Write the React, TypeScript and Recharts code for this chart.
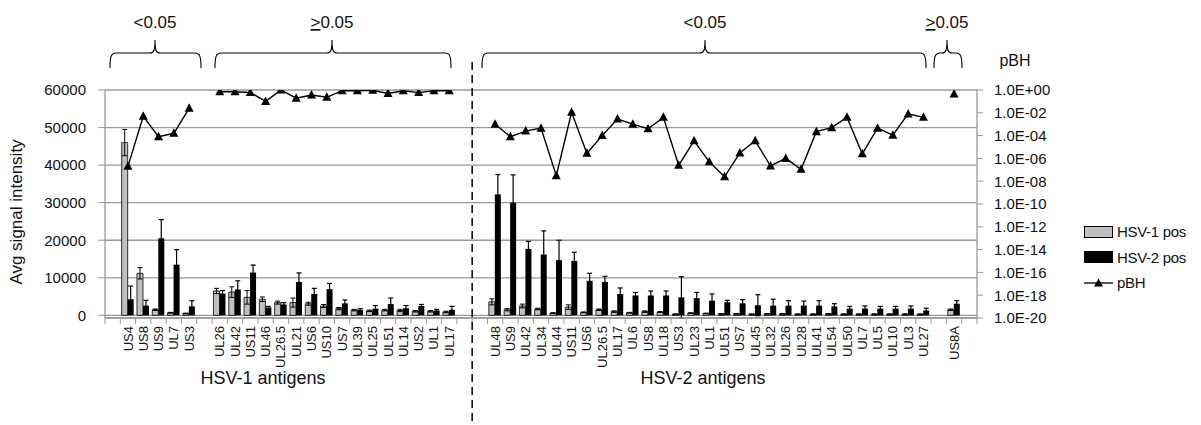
import { ComposedChart, Bar, Line, XAxis, YAxis, CartesianGrid, ErrorBar, Legend } from 'recharts'

// '' = empty slot on the category axis
const antigens = [
  '', 'US4', 'US8', 'US9', 'UL7', 'US3', '',
  'UL26', 'UL42', 'US11', 'UL46', 'UL26.5', 'UL21', 'US6', 'US10', 'US7', 'UL39', 'UL25', 'UL51', 'UL14', 'US2', 'UL1', 'UL17',
  '', '',
  'UL48', 'US9', 'UL42', 'UL34', 'UL44', 'US11', 'US6', 'UL26.5', 'UL17', 'UL6', 'US8', 'UL18', 'US3', 'UL23', 'UL1',
  'UL51', 'US7', 'UL45', 'UL32', 'UL26', 'UL28', 'UL41', 'UL54', 'UL50', 'UL7', 'UL5', 'UL10', 'UL3', 'UL27',
  '', 'US8A', '',
]

const hsv1Pos = [
  null, 46000, 11200, 1500, 700, 500, null,
  6500, 6200, 4800, 4300, 3400, 3400, 3100, 2500, 1800, 1400, 1200, 1400, 1300, 1100, 1100, 900,
  null, null,
  3600, 1500, 2500, 1700, 600, 2200, 800, 1500, 1000, 700, 1000, 900, 300, 600, 500,
  400, 400, 300, 400, 400, 300, 300, 400, 300, 300, 300, 300, 300, 300,
  null, 1500, null,
]
const hsv1Err = [
  null, 3500, 1500, 200, 100, 100, null,
  700, 1400, 1800, 600, 400, 1200, 400, 400, 300, 200, 200, 200, 300, 200, 200, 200,
  null, null,
  800, 300, 500, 200, 100, 600, 100, 200, 200, 100, 200, 100, 100, 100, 100,
  100, 100, 100, 100, 100, 100, 100, 100, 100, 100, 100, 100, 100, 100,
  null, 200, null,
]
const hsv2Pos = [
  null, 4300, 2600, 20500, 13500, 2400, null,
  5800, 6900, 11400, 2100, 2900, 8900, 5700, 7000, 3200, 1500, 1800, 3000, 1900, 2500, 1300, 1500,
  null, null,
  32200, 30000, 17700, 16200, 14700, 14500, 9200, 8900, 5700, 5300, 5300, 5300, 4800, 4600, 3900,
  3500, 3200, 2700, 2600, 2600, 2600, 2600, 2400, 1800, 1800, 1800, 1800, 1800, 1300,
  null, 3100, null,
]
const hsv2Err = [
  null, 3500, 1400, 5000, 4000, 1500, null,
  800, 2300, 2000, 300, 500, 2400, 1500, 1500, 900, 300, 800, 1600, 700, 400, 300, 900,
  null, null,
  5300, 7400, 2000, 6300, 5300, 2300, 2000, 1500, 1600, 800, 1200, 1200, 5500, 1500, 1800,
  500, 1000, 2800, 1700, 1300, 1200, 1300, 700, 600, 700, 600, 600, 700, 600,
  null, 800, null,
]
const pBH = [
  null, 2e-7, 5e-3, 8e-5, 1.6e-4, 2.5e-2, null,
  0.7, 0.7, 0.6, 0.1, 1, 0.19, 0.36, 0.23, 0.87, 0.87, 0.95, 0.5, 0.87, 0.59, 0.87, 0.87,
  null, null,
  1e-3, 8e-5, 2.5e-4, 4.5e-4, 3e-8, 1.1e-2, 2.8e-6, 1e-4, 2.8e-3, 1e-3, 4e-4, 4e-3, 2.5e-7, 3.5e-5, 5e-7,
  2.5e-8, 3e-6, 3.5e-5, 2.2e-7, 1e-6, 1.1e-7, 2.2e-4, 5e-4, 4e-3, 2.5e-6, 4.5e-4, 1.1e-4, 8e-3, 4e-3,
  null, 0.45, null,
]

const leftTicks = [0, 10000, 20000, 30000, 40000, 50000, 60000]
const rightTicks = [1, 1e-2, 1e-4, 1e-6, 1e-8, 1e-10, 1e-12, 1e-14, 1e-16, 1e-18, 1e-20]

const data = antigens.map((name, i) => ({
  idx: i,
  name,
  hsv1: hsv1Pos[i],
  hsv1Err: hsv1Err[i],
  hsv2: hsv2Pos[i],
  hsv2Err: hsv2Err[i],
  pbh: pBH[i],
}))

const W = 1201
const H = 425
const PLOT_LEFT = 105
const PLOT_RIGHT = 977
const PLOT_TOP = 90
const PLOT_BOTTOM = 318
const BW = (PLOT_RIGHT - PLOT_LEFT) / antigens.length
const FONT = 'Liberation Sans, Arial, Helvetica, sans-serif'
const GRID = '#9a9a9a'

function fmtExp(v: number) {
  const e = Math.round(Math.log10(v))
  const s = String(Math.abs(e)).padStart(2, '0')
  return `1.0E${e < 0 ? '-' : '+'}${s}`
}

function CategoryTick(props: any) {
  const { x, payload } = props
  const i = payload.value as number
  const name = antigens[i]
  return (
    <g>
      <line x1={x - BW / 2} x2={x - BW / 2} y1={PLOT_BOTTOM} y2={PLOT_BOTTOM + 6} stroke={GRID} />
      {i === antigens.length - 1 && (
        <line x1={x + BW / 2} x2={x + BW / 2} y1={PLOT_BOTTOM} y2={PLOT_BOTTOM + 6} stroke={GRID} />
      )}
      {name && (
        <text
          transform={`translate(${x},${PLOT_BOTTOM + 8}) rotate(-90)`}
          textAnchor="end"
          dy="0.35em"
          fontSize={13}
          fontFamily={FONT}
          fill="#111"
        >
          {name}
        </text>
      )}
    </g>
  )
}

function Triangle(props: any) {
  const { cx, cy, index } = props
  if (cx == null || cy == null || pBH[index] == null) return <g key={index} />
  return <path key={index} d={`M${cx},${cy - 5} L${cx + 4.5},${cy + 3.5} L${cx - 4.5},${cy + 3.5} Z`} fill="#000" />
}

function renderLegend() {
  const row = { display: 'flex', alignItems: 'center', height: 25.5, fontSize: 15, fontFamily: FONT, color: '#111', letterSpacing: -0.3 }
  return (
    <div>
      <div style={row}>
        <span style={{ width: 27, height: 10, background: '#c0c0c0', border: '1px solid #000', marginRight: 4 }} />
        HSV-1 pos
      </div>
      <div style={row}>
        <span style={{ width: 29, height: 12, background: '#000', marginRight: 4 }} />
        HSV-2 pos
      </div>
      <div style={row}>
        <svg width={29} height={12} style={{ marginRight: 4 }}>
          <line x1={0} x2={29} y1={6} y2={6} stroke="#000" strokeWidth={1.3} />
          <path d="M14.5,1.5 L19,9.5 L10,9.5 Z" fill="#000" />
        </svg>
        pBH
      </div>
    </div>
  )
}

function brace(x1: number, xm: number, x2: number) {
  const y = 53
  return `M${x1},68 C${x1},57 ${x1 + 1},${y} ${x1 + 6},${y} L${xm - 5},${y} C${xm - 1},${y} ${xm},${y - 3} ${xm},${y - 13} ` +
    `C${xm},${y - 3} ${xm + 1},${y} ${xm + 5},${y} L${x2 - 6},${y} C${x2 - 1},${y} ${x2},57 ${x2},68`
}

const braces = [
  { x1: 110, xm: 155, x2: 201, lt: true },
  { x1: 215, xm: 332, x2: 451, lt: false },
  { x1: 482, xm: 705, x2: 926, lt: true },
  { x1: 934, xm: 947, x2: 962, lt: false },
]

export default function App() {
  return (
    <div style={{ position: 'absolute', left: 0, top: 0, width: W, height: H, background: '#fff' }}>
      <ComposedChart
        width={W}
        height={H}
        data={data}
        margin={{ top: PLOT_TOP, right: 0, bottom: 0, left: 0 }}
        barCategoryGap="9%"
        barGap={0}
      >
        <CartesianGrid yAxisId="left" vertical={false} stroke={GRID} strokeWidth={1.3} />
        <XAxis
          dataKey="idx"
          type="category"
          height={H - PLOT_BOTTOM}
          interval={0}
          tickLine={false}
          axisLine={{ stroke: GRID, strokeWidth: 1.3 }}
          tick={<CategoryTick />}
        />
        <YAxis
          yAxisId="left"
          width={PLOT_LEFT}
          domain={[0, 60000]}
          ticks={leftTicks}
          interval={0}
          tickSize={7}
          tickMargin={12}
          axisLine={{ stroke: GRID, strokeWidth: 1.3 }}
          tickLine={{ stroke: GRID }}
          tick={{ fontSize: 15, fontFamily: FONT, fill: '#111' }}
        />
        <YAxis
          yAxisId="right"
          orientation="right"
          width={W - PLOT_RIGHT}
          scale="log"
          domain={[1e-20, 1]}
          ticks={rightTicks}
          interval={0}
          allowDataOverflow
          tickSize={6}
          tickMargin={11}
          tickFormatter={fmtExp}
          axisLine={{ stroke: GRID, strokeWidth: 1.3 }}
          tickLine={{ stroke: GRID }}
          tick={{ fontSize: 15, fontFamily: FONT, fill: '#111', textAnchor: 'start' }}
        />
        <Legend
          layout="horizontal"
          verticalAlign="middle"
          align="center"
          content={renderLegend}
          wrapperStyle={{ position: 'absolute', left: 1084, top: 219, width: 117, height: 80 }}
        />
        <Bar yAxisId="left" dataKey="hsv1" name="HSV-1 pos" fill="#c0c0c0" stroke="#000" strokeWidth={0.8} isAnimationActive={false}>
          <ErrorBar dataKey="hsv1Err" width={2.5} stroke="#000" strokeWidth={1} />
        </Bar>
        <Bar yAxisId="left" dataKey="hsv2" name="HSV-2 pos" fill="#000" isAnimationActive={false}>
          <ErrorBar dataKey="hsv2Err" width={2.5} stroke="#000" strokeWidth={1.2} />
        </Bar>
        <Line
          yAxisId="right"
          dataKey="pbh"
          name="pBH"
          stroke="#000"
          strokeWidth={1.4}
          dot={Triangle}
          activeDot={false}
          connectNulls={false}
          isAnimationActive={false}
        />
      </ComposedChart>

      <svg width={W} height={H} style={{ position: 'absolute', left: 0, top: 0, pointerEvents: 'none' }} fontFamily={FONT}>
        {braces.map((b, i) => (
          <g key={i}>
            <path d={brace(b.x1, b.xm, b.x2)} fill="none" stroke="#000" strokeWidth={1.1} />
            <text x={b.xm} y={28} textAnchor="middle" fontSize={17} fill="#111">
              {b.lt ? '<' : <tspan textDecoration="underline">&gt;</tspan>}
              0.05
            </text>
          </g>
        ))}
        <line
          x1={PLOT_LEFT + 24 * BW}
          x2={PLOT_LEFT + 24 * BW}
          y1={62}
          y2={H}
          stroke="#000"
          strokeWidth={1.5}
          strokeDasharray="8 5"
        />
        <text x={1015} y={66} textAnchor="middle" fontSize={16} fill="#111">pBH</text>
        <text transform="translate(16,212) rotate(-90)" textAnchor="middle" dy="0.35em" fontSize={17} fill="#111">
          Avg signal intensity
        </text>
        <text x={263} y={384} textAnchor="middle" fontSize={18} fill="#111">HSV-1 antigens</text>
        <text x={703} y={384} textAnchor="middle" fontSize={18} fill="#111">HSV-2 antigens</text>
      </svg>
    </div>
  )
}
